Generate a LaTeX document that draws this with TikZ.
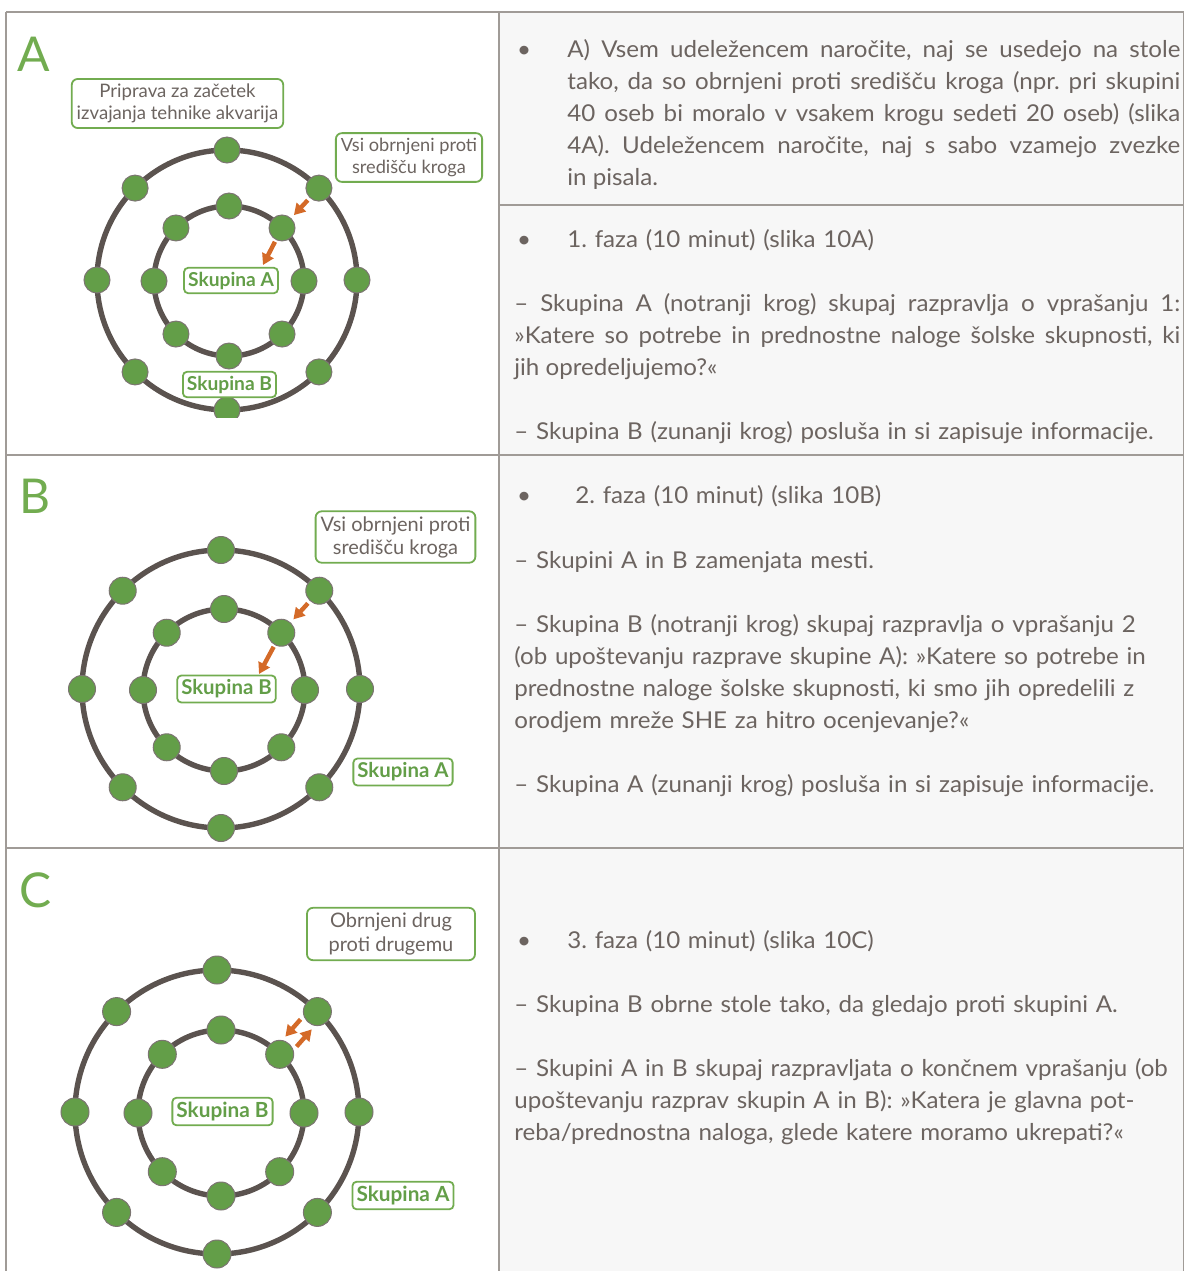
\documentclass[tikz,border=0pt]{standalone}
\usepackage{fontspec}
\usetikzlibrary{calc,arrows.meta}
\newfontfamily\bodyfont[FakeStretch=1.04]{Lato}
\newfontfamily\labelfont{Lato}
\definecolor{leaf}{RGB}{99,158,72}
\definecolor{sprout}{RGB}{114,172,80}
\definecolor{bark}{RGB}{91,83,79}
\definecolor{ink}{RGB}{108,100,96}
\definecolor{rust}{RGB}{212,106,40}
\definecolor{edge}{RGB}{160,155,151}
\definecolor{paper}{RGB}{247,247,247}
\tikzset{seat/.style={
  circle,
  fill=leaf,draw=bark!80,line width=0.5pt,
  inner sep=0pt,minimum size=#1}}
\tikzset{ring/.style={draw=bark,line width=2.7pt}}
\tikzset{note/.style 2 args={
  rectangle,rounded corners=3pt,
  draw=sprout,line width=0.9pt,fill=white,
  text=ink,align=center,inner sep=2.5pt,
  font=\labelfont\fontsize{#1}{#2}\selectfont}}
\tikzset{tag/.style={
  rectangle,rounded corners=2pt,
  draw=sprout,line width=0.9pt,fill=white,
  text=leaf,inner xsep=2pt,inner ysep=0pt,minimum height=1.32*#1pt,
  font=\labelfont\bfseries\fontsize{#1}{#1}\selectfont}}
\tikzset{flow/.style={draw=rust,line width=2.2pt,-{Triangle[length=5.5pt,width=6.2pt]}}}
\tikzset{letter/.style={
  anchor=base west,inner sep=0pt,
  text=sprout,font=\labelfont\fontsize{24}{24}\selectfont}}
\tikzset{body/.style={
  anchor=base west,inner sep=0pt,
  text=ink,text width=#1,font=\bodyfont\fontsize{11.6}{16}\selectfont\frenchspacing}}
\tikzset{bulletmark/.style={anchor=base,inner sep=0pt,text=ink,font=\bodyfont\fontsize{11.6}{16}\selectfont}}
\tikzset{cellline/.style={draw=edge,line width=0.8pt}}

\begin{document}
\begin{tikzpicture}[x=0.5pt,y=-0.5pt]
  \useasboundingbox (0,0) rectangle (1184,1271);
  \fill[paper] (499,12) rectangle (1184,1271);
  \foreach \a/\b in {{(6,12)}/{(1184,12)},{(6,455)}/{(1184,455)},{(6,848)}/{(1184,848)},
      {(499,205)}/{(1184,205)},{(6,12)}/{(6,1271)},{(499,12)}/{(499,1271)},
      {(1183.5,12)}/{(1183.5,1271)}}
    \draw[cellline] \a -- \b;

  % the two circles of tables
  \foreach \p/\ox/\oy/\ro/\ix/\iy/\ri/\d/\top/\bot in {
      A/227/280/130/229/281/75/13pt/12/417,
      B/221/689/139/224/690/81/13.5pt/455/848,
      C/217/1112/142/221/1113/83/14pt/848/1271} {
    \begin{scope}
      \clip (6,\top) rectangle (499,\bot);
      \draw[ring] (\ox,\oy) circle[radius=\ro];
      \draw[ring] (\ix,\iy) circle[radius=\ri];
      \foreach \a in {0,45,...,315} {
        \node[seat=\d] (\p-o\a) at ($(\ox,\oy)+(-\a:\ro)$) {};
        \node[seat=\d] (\p-i\a) at ($(\ix,\iy)+(-\a:\ri)$) {};
      }
    \end{scope}
  }

  \node[letter] (A-mark) at (17,71) {A};
  \node[letter] (B-mark) at (19,513) {B};
  \node[letter] (C-mark) at (19,907) {C};

  \node[note={9.3}{11}] (A-prep) at (177.5,103.5) {Priprava za začetek\\izvajanja tehnike akvarija};
  \node[note={9.1}{11}] (A-face) at (409,157.5) {Vsi obrnjeni proti\\središču kroga};
  \node[note={10}{11.5}] (B-face) at (395.5,537) {Vsi obrnjeni proti\\središču kroga};
  \node[note={10}{12},minimum width=84pt] (C-face) at (391,934) {Obrnjeni drug\\proti drugemu};

  \node[tag=9.6] (A-inner) at (231,280.5) {Skupina A};
  \node[tag=9.6] (A-outer) at (229.5,384.5) {Skupina B};
  \node[tag=10.2] (B-inner) at (226.5,689) {Skupina B};
  \node[tag=10.2] (B-outer) at (403,772) {Skupina A};
  \node[tag=10.4] (C-inner) at (222.5,1111.5) {Skupina B};
  \node[tag=10.4] (C-outer) at (403,1195.5) {Skupina A};

  \coordinate (A-aim) at (263,265);
  \coordinate (B-aim) at (259,674);
  \foreach \p in {A,B} {
    \draw[flow,shorten <=1.5pt,shorten >=2pt] (\p-o45) -- (\p-i45);
    \draw[flow,shorten <=1pt] (\p-i45) -- (\p-aim);
  }
  \draw[flow,shorten <=8.5pt,shorten >=8.5pt]
    ([shift={(-5.6,-5)}]C-o45.center) -- ([shift={(-5.6,-5)}]C-i45.center);
  \draw[flow,shorten <=8.5pt,shorten >=8.5pt]
    ([shift={(5.6,5)}]C-i45.center) -- ([shift={(5.6,5)}]C-o45.center);

  % right column
  \foreach \n/\y in {A-dot1/57,A-dot2/247,B-dot/503,C-dot/948}
    \node[bulletmark] (\n) at (524,\y) {•};
  \node[body=306.5pt,align=justify] (A-seat) at (567,57)
    {A) Vsem udeležencem naročite, naj se usedejo na stole\linebreak
     tako, da so obrnjeni proti središču kroga (npr. pri skupini\linebreak
     40 oseb bi moralo v vsakem krogu sedeti 20 oseb) (slika\linebreak
     4A). Udeležencem naročite, naj s sabo vzamejo zvezke\linebreak
     in pisala.};
  \node[body=306.5pt] (A-phase) at (567,247) {1. faza (10 minut) (slika 10A)};
  \node[body=333pt,align=justify] (A-talk) at (514,311)
    {– Skupina A (notranji krog) skupaj razpravlja o vprašanju 1:\linebreak
     »Katere so potrebe in prednostne naloge šolske skupnosti, ki\linebreak
     jih opredeljujemo?«};
  \node[body=350pt] (A-listen) at (514,439) {– Skupina B (zunanji krog) posluša in si zapisuje informacije.};

  \node[body=306.5pt] (B-phase) at (575,503) {2. faza (10 minut) (slika 10B)};
  \node[body=350pt] (B-swap) at (514,568) {– Skupini A in B zamenjata mesti.};
  \node[body=350pt,align=left] (B-talk) at (514,632)
    {– Skupina B (notranji krog) skupaj razpravlja o vprašanju 2\\
     (ob upoštevanju razprave skupine A): »Katere so potrebe in\\
     prednostne naloge šolske skupnosti, ki smo jih opredelili z\\
     orodjem mreže SHE za hitro ocenjevanje?«};
  \node[body=350pt] (B-listen) at (514,792) {– Skupina A (zunanji krog) posluša in si zapisuje informacije.};

  \node[body=306.5pt] (C-phase) at (567,948) {3. faza (10 minut) (slika 10C)};
  \node[body=350pt] (C-turn) at (514,1012) {– Skupina B obrne stole tako, da gledajo proti skupini A.};
  \node[body=350pt,align=left] (C-talk) at (514,1076)
    {– Skupini A in B skupaj razpravljata o končnem vprašanju (ob\\
     upoštevanju razprav skupin A in B): »Katera je glavna pot-\\
     reba/prednostna naloga, glede katere moramo ukrepati?«};
\end{tikzpicture}
\end{document}
